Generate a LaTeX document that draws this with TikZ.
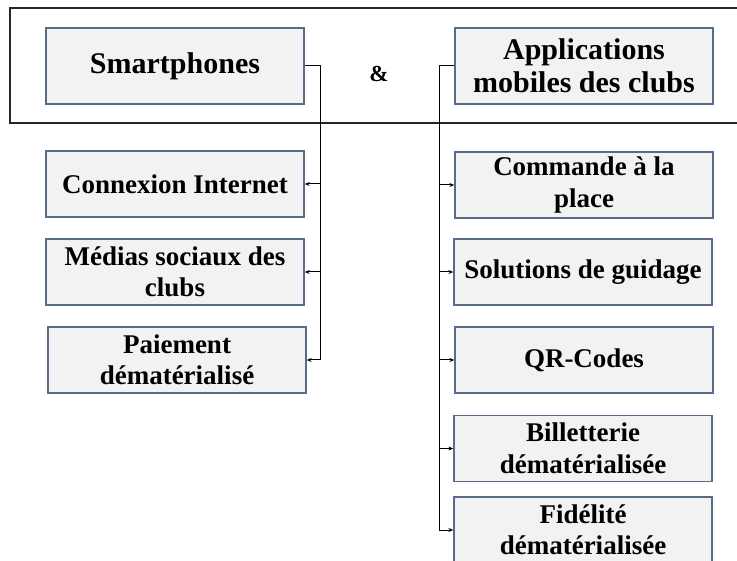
\documentclass[tikz,border=0pt]{standalone}
\usepackage{fontspec}
\setmainfont{Liberation Serif}
\usetikzlibrary{arrows.meta}
\definecolor{boxfill}{RGB}{242,242,242}
\definecolor{boxdraw}{RGB}{88,108,138}
\tikzset{
  topbox/.style={draw=boxdraw, fill=boxfill, line width=1.3pt, minimum width=258pt, minimum height=76pt, inner sep=0pt, align=center, font=\fontsize{30}{33}\selectfont\bfseries},
  subbox/.style={draw=boxdraw, fill=boxfill, line width=1.3pt, minimum width=258pt, minimum height=66pt, inner sep=0pt, align=center, font=\fontsize{27}{31.5}\selectfont\bfseries},
  conn/.style={draw=black, line width=1pt},
  arr/.style={conn, -{Stealth[length=5pt, width=4pt]}}
}
\begin{document}
\begin{tikzpicture}[x=1pt, y=-1pt]
\clip (0,0) rectangle (737,561);
\fill[white] (0,0) rectangle (737,561);
% frame
\draw[line width=1.4pt, black!85] (10,8) rectangle (760,123);
% top boxes
\node[topbox] (smart) at (175,66) {Smartphones};
\node[topbox] (apps) at (584,66) {Applications\\mobiles des clubs};
\node[font=\fontsize{23}{26}\selectfont\bfseries] (amp) at (379,74) {\&};
% left column
\node[subbox] (cnx) at (175,184) {Connexion Internet};
\node[subbox] (med) at (175,272) {Médias sociaux des\\clubs};
\node[subbox] (pay) at (177,360) {Paiement\\dématérialisé};
% right column
\node[subbox] (cmd) at (584,185) {Commande à la\\place};
\node[subbox] (sol) at (583,272) {Solutions de guidage};
\node[subbox] (qr) at (584,360) {QR-Codes};
\node[subbox] (bil) at (583,448.5) {Billetterie\\dématérialisée};
\node[subbox] (fid) at (583,530) {Fidélité\\dématérialisée};
% trunks
\coordinate (ltop) at (320,66);
\coordinate (rtop) at (439,66);
\draw[conn] (smart.east) -- (ltop) -- (ltop |- pay.east);
\draw[conn] (apps.west) -- (rtop) -- (rtop |- fid.west);
% left arrows
\draw[arr] (ltop |- cnx.east) -- (cnx.east);
\draw[arr] (ltop |- med.east) -- (med.east);
\draw[arr] (ltop |- pay.east) -- (pay.east);
% right arrows
\draw[arr] (rtop |- cmd.west) -- (cmd.west);
\draw[arr] (rtop |- sol.west) -- (sol.west);
\draw[arr] (rtop |- qr.west) -- (qr.west);
\draw[arr] (rtop |- bil.west) -- (bil.west);
\draw[arr] (rtop |- fid.west) -- (fid.west);
\end{tikzpicture}
\end{document}
